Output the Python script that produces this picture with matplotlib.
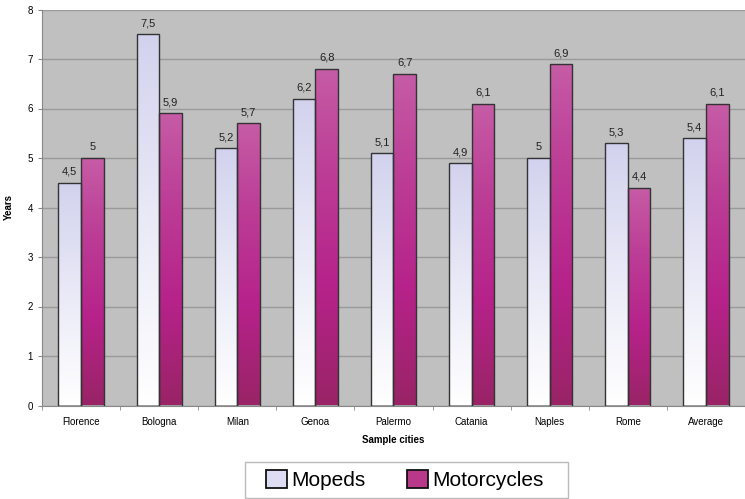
import numpy as np
import matplotlib.pyplot as plt
from matplotlib.colors import LinearSegmentedColormap
from matplotlib.patches import Patch, Rectangle

plt.rcParams['font.family'] = ['Liberation Sans', 'DejaVu Sans']

cities = ["Florence", "Bologna", "Milan", "Genoa", "Palermo",
          "Catania", "Naples", "Rome", "Average"]
mopeds = [4.5, 7.5, 5.2, 6.2, 5.1, 4.9, 5.0, 5.3, 5.4]
motorcycles = [5.0, 5.9, 5.7, 6.8, 6.7, 6.1, 6.9, 4.4, 6.1]


def fmt(v):
    s = f"{v:g}"
    return s.replace(".", ",")


# vertical gradients, one per bar: first colour at bar bottom, last at top
cmap_moped = LinearSegmentedColormap.from_list(
    "moped", [(0, "#ffffff"), (0.45, "#ececf8"), (1, "#d2d2ee")])
cmap_moto = LinearSegmentedColormap.from_list(
    "moto", [(0, "#992466"), (0.35, "#b6228a"), (0.7, "#bc3e96"),
             (1, "#c65ca6")])

W, H = 745, 499
fig = plt.figure(figsize=(W / 100, H / 100), dpi=100)
ax = fig.add_axes([42 / W, 1 - 405.5 / H, 703 / W, 396 / H])
ax.set_facecolor("#c0c0c0")

x = np.arange(len(cities))
w = 0.29
bars_m = ax.bar(x - w / 2, mopeds, w, color="none", edgecolor="#333333",
                linewidth=1.0, zorder=3)
bars_c = ax.bar(x + w / 2, motorcycles, w, color="none", edgecolor="#333333",
                linewidth=1.0, zorder=3)

grad = np.linspace(0, 1, 256).reshape(-1, 1)
for bars, cmap in ((bars_m, cmap_moped), (bars_c, cmap_moto)):
    for b in bars:
        x0 = b.get_x()
        im = ax.imshow(grad, cmap=cmap, origin="lower", aspect="auto",
                       extent=[x0, x0 + b.get_width(), 0, b.get_height()],
                       zorder=2)
        im.set_clip_path(b)

for bars, vals in ((bars_m, mopeds), (bars_c, motorcycles)):
    for b, v in zip(bars, vals):
        ax.text(b.get_x() + b.get_width() / 2, v + 0.12, fmt(v),
                ha="center", va="bottom", fontsize=8, color="#222222")

ax.set_xlim(-0.5, 8.43)
ax.set_ylim(0, 8)
ax.set_yticks(range(0, 9))
ax.yaxis.grid(True, color="#9a9a9a", linewidth=1.0, zorder=0)
ax.set_axisbelow(True)

ax.set_xticks(x)
ax.set_xticklabels(cities, fontsize=7)
ax.set_xticks(np.arange(-0.5, 9, 1), minor=True)
ax.tick_params(axis="x", which="major", length=0, pad=8)
ax.tick_params(axis="x", which="minor", length=3, color="#888888")
ax.tick_params(axis="y", labelsize=7, length=3, color="#888888")

for side in ("top", "right"):
    ax.spines[side].set_visible(False)
ax.spines["left"].set_color("#888888")
ax.spines["bottom"].set_color("#888888")

ax.set_ylabel("Years", fontsize=7, fontweight="bold", labelpad=10)
ax.set_xlabel("Sample cities", fontsize=7, fontweight="bold", labelpad=6)

# legend box drawn separately so it can be wider than the entries
fig.patches.append(Rectangle((245 / W, 1 - 498 / H), 323 / W, 36 / H,
                             transform=fig.transFigure, facecolor="white",
                             edgecolor="#bbbbbb", linewidth=1.0))
handles = [Patch(facecolor="#dcdcf2", edgecolor="#111111", linewidth=1.3),
           Patch(facecolor="#b8388a", edgecolor="#111111", linewidth=1.3)]
fig.legend(handles, ["Mopeds", "Motorcycles"], loc="center",
           bbox_to_anchor=(405 / W, 1 - 480 / H), ncol=2,
           fontsize=15, frameon=False,
           handlelength=1.0, handleheight=1.0, handletextpad=0.2,
           columnspacing=2.0, borderpad=0.2)

fig.savefig("out.png", dpi=100)
